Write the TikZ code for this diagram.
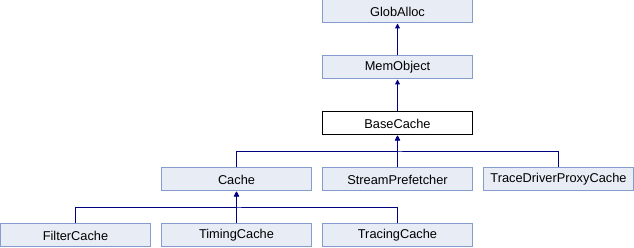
\documentclass[tikz,border=0pt]{standalone}
\usepackage{fontspec}
\setmainfont{Liberation Sans}
\usepackage{tikz}
\usetikzlibrary{arrows.meta, positioning}
\usepackage{xcolor}
\definecolor{classfill}{RGB}{232,236,245}
\definecolor{classborder}{RGB}{132,157,204}
\definecolor{edgenavy}{RGB}{0,0,128}

\begin{document}
\begin{tikzpicture}[x=1pt, y=1pt,
		cls/.style={rectangle, draw=classborder, fill=classfill, line width=1pt, minimum width=150pt, minimum height=23pt, inner sep=0pt, font=\fontsize{12.8}{14}\selectfont},
		focus/.style={cls, draw=black, fill=white},
		inh/.style={draw=edgenavy, line width=1pt, -{Triangle[length=5pt, width=5pt]}}
	]
	\useasboundingbox (0,0) rectangle (634,248);
	\node[cls] (globalloc) at (397.5,236.5) {GlobAlloc};
	\node[cls] (memobject) at (397.5,180.5) {MemObject};
	\node[focus] (basecache) at (397.5,124.5) {BaseCache};
	\node[cls] (cache) at (236.5,68.5) {Cache};
	\node[cls] (prefetch) at (397.5,68.5) {StreamPrefetcher};
	\node[cls] (tdproxy) at (558.5,68.5) {TraceDriverProxyCache};
	\node[cls] (filter) at (75.5,12.5) {FilterCache};
	\node[cls] (timing) at (236.5,12.5) {TimingCache};
	\node[cls] (tracing) at (397.5,12.5) {TracingCache};
	% inheritance edges
	\draw[inh] (memobject) -- (globalloc);
	\draw[inh] (basecache) -- (memobject);
	\foreach \c in {cache, prefetch, tdproxy}
		\draw[inh] (\c.north) |- (236.5,96) -| (basecache.south);
	\foreach \c in {filter, timing, tracing}
		\draw[inh] (\c.north) |- (75.5,40) -| (cache.south);
\end{tikzpicture}
\end{document}
